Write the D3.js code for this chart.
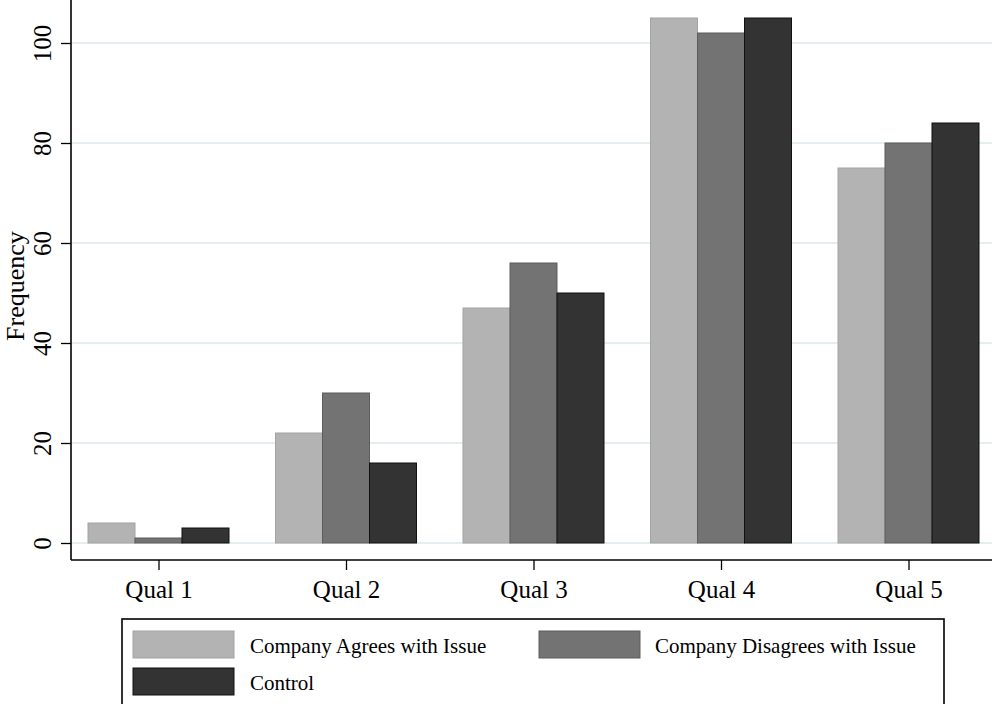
<!DOCTYPE html>
<html>
<head>
<meta charset="utf-8">
<script src="https://cdn.jsdelivr.net/npm/d3@7"></script>
<style>
  html, body { margin: 0; padding: 0; background: #fff; }
  svg { display: block; font-family: "Liberation Serif", "Times New Roman", serif; }
</style>
</head>
<body>
<svg id="chart" width="995" height="704"></svg>
<script>
const categories = ["Qual 1", "Qual 2", "Qual 3", "Qual 4", "Qual 5"];
const seriesNames = ["Company Agrees with Issue", "Company Disagrees with Issue", "Control"];
const agrees = [4, 22, 47, 105, 75];
const disagrees = [1, 30, 56, 102, 80];
const control = [3, 16, 50, 105, 84];
const yTicks = [0, 20, 40, 60, 80, 100];
const fills = ["#b3b3b3", "#737373", "#333333"];
const strokes = ["#a3a3a3", "#5c5c5c", "#111111"];

const seriesValues = [agrees, disagrees, control];
const svg = d3.select("#chart");

const axisX = 71, axisY = 560, rightX = 992;
const y = d3.scaleLinear().domain([0, 100]).range([543, 43]);
const x = d3.scalePoint().domain(categories).range([158.5, 908.5]);
const xs = d3.scaleBand().domain(seriesNames).range([-70.5, 70.5]).padding(0);

// gridlines
svg.append("g").selectAll("line").data(yTicks).join("line")
  .attr("x1", axisX).attr("x2", rightX)
  .attr("y1", d => y(d)).attr("y2", d => y(d))
  .attr("stroke", "#e4eef0").attr("stroke-width", 1.8);

// bars
const groups = svg.append("g").selectAll("g").data(seriesNames).join("g");
groups.each(function(name, si) {
  d3.select(this).selectAll("rect").data(categories).join("rect")
    .attr("x", c => x(c) + xs(name))
    .attr("width", xs.bandwidth())
    .attr("y", (c, i) => y(seriesValues[si][i]))
    .attr("height", (c, i) => y(0) - y(seriesValues[si][i]))
    .attr("fill", fills[si])
    .attr("stroke", strokes[si])
    .attr("stroke-width", 1);
});

// Y axis
const yAxis = d3.axisLeft(y).tickValues(yTicks).tickSize(10).tickFormat(d3.format("d"));
const gy = svg.append("g").attr("transform", `translate(${axisX},0)`).call(yAxis);
gy.select(".domain").remove();
gy.selectAll(".tick line").attr("stroke", "#000").attr("stroke-width", 1.3);
gy.selectAll(".tick text")
  .attr("transform", "rotate(-90)")
  .attr("x", 0).attr("y", -20).attr("dy", 0)
  .attr("text-anchor", "middle")
  .attr("font-size", 25).attr("font-family", "Liberation Serif").attr("fill", "#000");
svg.append("line").attr("x1", axisX).attr("x2", axisX).attr("y1", 0).attr("y2", axisY)
  .attr("stroke", "#000").attr("stroke-width", 1.6);

// X axis
const xAxis = d3.axisBottom(x).tickSize(10).tickSizeOuter(0);
const gx = svg.append("g").attr("transform", `translate(0,${axisY})`).call(xAxis);
gx.select(".domain").remove();
gx.selectAll(".tick line").attr("stroke", "#000").attr("stroke-width", 1.3);
gx.selectAll(".tick text")
  .attr("y", 38).attr("dy", 0)
  .attr("font-size", 25).attr("font-family", "Liberation Serif").attr("fill", "#000");
svg.append("line").attr("x1", axisX).attr("x2", rightX).attr("y1", axisY).attr("y2", axisY)
  .attr("stroke", "#000").attr("stroke-width", 1.6);

// Y title
svg.append("text")
  .attr("transform", "translate(24,286) rotate(-90)")
  .attr("text-anchor", "middle")
  .attr("font-size", 26).attr("fill", "#000")
  .text("Frequency");

// Legend
const lg = svg.append("g");
lg.append("rect").attr("x", 122).attr("y", 619).attr("width", 822).attr("height", 120)
  .attr("fill", "#fff").attr("stroke", "#000").attr("stroke-width", 1.6);
const legendPos = [
  {sx: 133, sy: 631, tx: 250, ty: 653},
  {sx: 539, sy: 631, tx: 655, ty: 653},
  {sx: 133, sy: 668, tx: 250, ty: 690}
];
seriesNames.forEach((name, i) => {
  const p = legendPos[i];
  lg.append("rect").attr("x", p.sx).attr("y", p.sy).attr("width", 101).attr("height", 27)
    .attr("fill", fills[i]).attr("stroke", strokes[i]).attr("stroke-width", 1);
  lg.append("text").attr("x", p.tx).attr("y", p.ty)
    .attr("font-size", 21).attr("fill", "#000").text(name);
});
</script>
</body>
</html>
